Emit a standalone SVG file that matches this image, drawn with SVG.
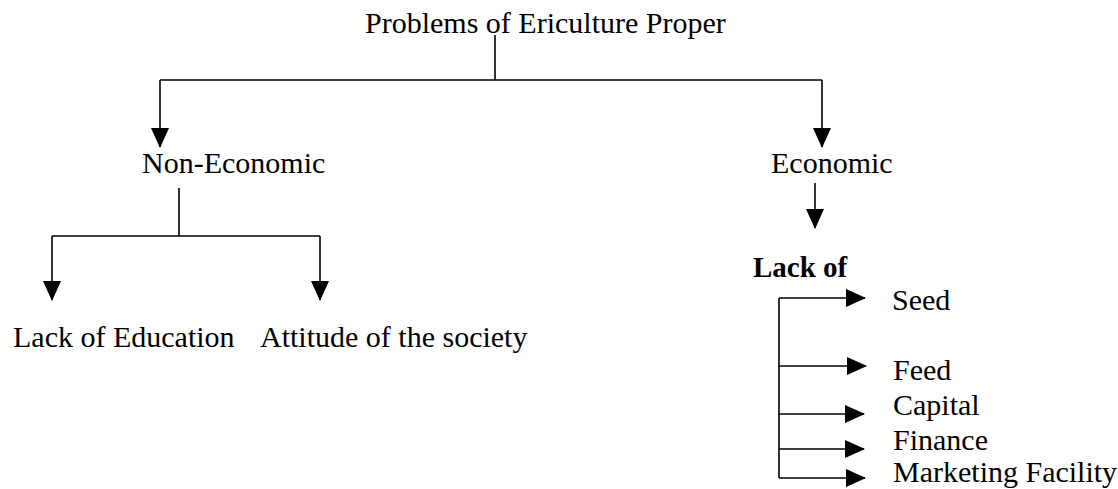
<svg xmlns="http://www.w3.org/2000/svg" width="1118" height="489" viewBox="0 0 1118 489">
<style>
  text { font-family: "Liberation Serif", "Times New Roman", serif; font-size: 30px; fill: #000; }
  .b { font-weight: bold; font-size: 29px; }
  .c { fill: none; stroke: #000; stroke-width: 1.6; }
  .a { marker-end: url(#arr); }
</style>
<defs>
  <marker id="arr" viewBox="0 0 20 18" markerWidth="20" markerHeight="18" refX="19" refY="9" orient="auto" markerUnits="userSpaceOnUse">
    <path d="M0,0 L20,9 L0,18 Z" fill="#000"/>
  </marker>
</defs>
<rect width="1118" height="489" fill="#fff"/>
<g id="connectors">
  <path class="c" d="M495,35 V80"/>
  <path class="c" d="M160,80 H822"/>
  <path class="c a" d="M160,80 V147"/>
  <path class="c a" d="M822,80 V147"/>
  <path class="c" d="M179,188 V236"/>
  <path class="c" d="M52,236 H320"/>
  <path class="c a" d="M52,236 V300"/>
  <path class="c a" d="M320,236 V300"/>
  <path class="c a" d="M815,183 V228"/>
  <path class="c" d="M779,298 V478"/>
  <path class="c a" d="M779,298 H865"/>
  <path class="c a" d="M779,366 H866"/>
  <path class="c a" d="M779,414 H864"/>
  <path class="c a" d="M779,449 H864"/>
  <path class="c a" d="M779,478 H865"/>
</g>
<g id="root"><text x="365" y="33">Problems of Ericulture Proper</text></g>
<g id="noneconomic"><text x="142" y="173">Non-Economic</text></g>
<g id="economic"><text x="771" y="173">Economic</text></g>
<g id="education"><text x="13" y="347">Lack of Education</text></g>
<g id="attitude"><text x="260" y="347">Attitude of the society</text></g>
<g id="lackof"><text class="b" x="753" y="277">Lack of</text></g>
<g id="seed"><text x="892" y="310">Seed</text></g>
<g id="feed"><text x="893" y="380">Feed</text></g>
<g id="capital"><text x="893" y="415">Capital</text></g>
<g id="finance"><text x="893" y="450">Finance</text></g>
<g id="marketing"><text x="893" y="482">Marketing Facility</text></g>
</svg>
